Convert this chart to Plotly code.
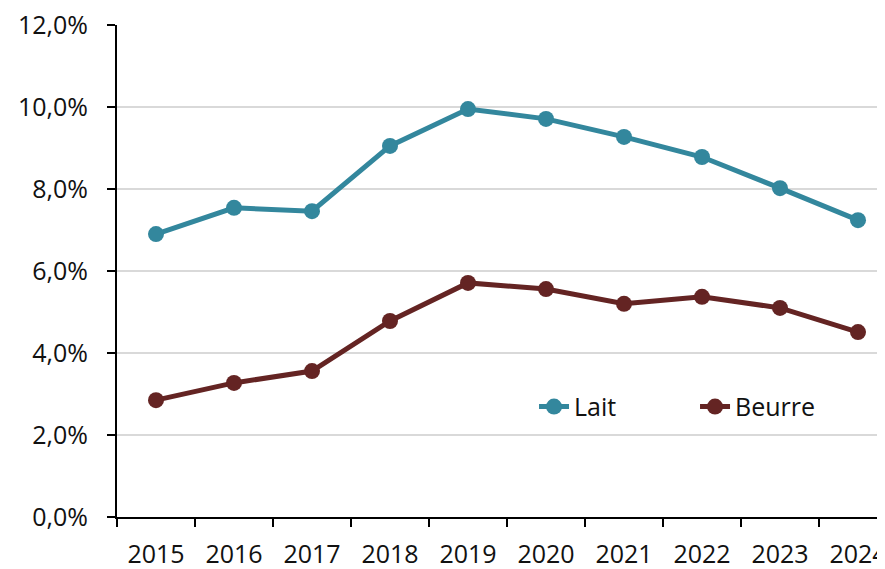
import plotly.graph_objects as go

# données (en %)
annees = ["2015", "2016", "2017", "2018", "2019", "2020", "2021", "2022", "2023", "2024"]
lait = [6.90, 7.54, 7.46, 9.05, 9.95, 9.71, 9.27, 8.78, 8.02, 7.24]
beurre = [2.85, 3.27, 3.56, 4.78, 5.71, 5.56, 5.20, 5.37, 5.10, 4.51]
y_ticks = [0, 2, 4, 6, 8, 10, 12]
y_labels = ["0,0%", "2,0%", "4,0%", "6,0%", "8,0%", "10,0%", "12,0%"]

fig = go.Figure()
fig.add_trace(go.Scatter(x=annees, y=lait, name="Lait", mode="lines+markers",
                         line=dict(color="#33879d", width=5),
                         marker=dict(size=16, color="#33879d")))
fig.add_trace(go.Scatter(x=annees, y=beurre, name="Beurre", mode="lines+markers",
                         line=dict(color="#642423", width=5),
                         marker=dict(size=16, color="#642423")))

# la page ajoute 8px de marge autour du graphique
fig.update_layout(
    width=877, height=561,
    margin=dict(l=109, r=0, t=17, b=52, autoexpand=False),
    paper_bgcolor="white", plot_bgcolor="white",
    font=dict(family="Open Sans, sans-serif", size=25, color="#111111"),
    legend=dict(orientation="h", x=0.543, y=0.224, xanchor="left", yanchor="middle",
                bgcolor="rgba(0,0,0,0)", font=dict(size=25),
                entrywidth=116, entrywidthmode="pixels"),
)
fig.update_xaxes(type="category", tickson="boundaries", range=[-0.5, 9.346],
                 showline=True, linecolor="black", linewidth=2,
                 ticks="outside", ticklen=8, tickwidth=2, tickcolor="black",
                 showgrid=False, ticklabelstandoff=14, automargin=False,
                 ticklabeloverflow="allow")
fig.update_yaxes(range=[0, 12], tickvals=y_ticks, ticktext=y_labels,
                 showline=True, linecolor="black", linewidth=2,
                 ticks="outside", ticklen=8, tickwidth=2, tickcolor="black",
                 showgrid=True, gridcolor="#d9d9d9", gridwidth=2, zeroline=False,
                 ticklabelstandoff=14, automargin=False, ticklabeloverflow="allow")

fig.write_html("out.html")
